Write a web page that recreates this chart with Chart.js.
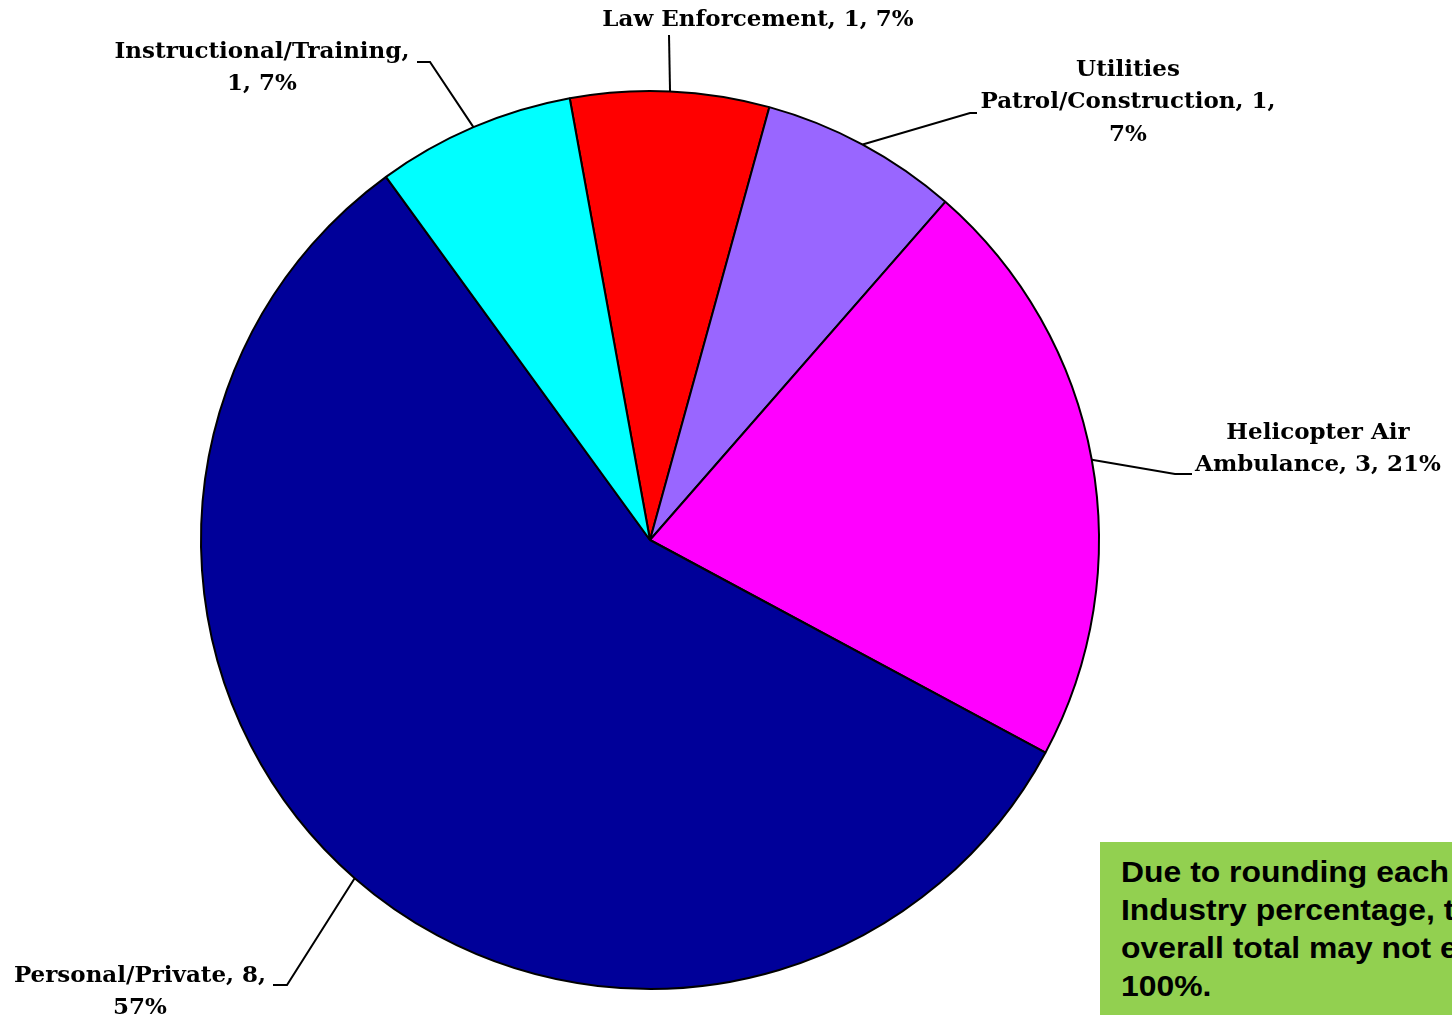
<!DOCTYPE html>
<html>
<head>
<meta charset="utf-8">
<script src="https://cdn.jsdelivr.net/npm/chart.js@4.4.0/dist/chart.umd.min.js"></script>
<style>
    html, body { margin: 0; padding: 0; background: #fff; overflow: hidden; }
    #wrap { position: relative; width: 1452px; height: 1022px; }
    #note {
        position: absolute; left: 1100px; top: 842px; width: 420px; height: 173px;
        box-sizing: border-box; padding: 11px 0 0 21px;
        background: #92d050; color: #000;
        font: bold 29px/38px "Liberation Sans", Arial, sans-serif;
        white-space: nowrap;
    }
    #note span { display: inline-block; transform: scaleX(1.1); transform-origin: left top; }
</style>
</head>
<body>
<div id="wrap">
    <canvas id="pieChart" width="1452" height="1022"></canvas>
    <div id="note"><span>Due to rounding each<br>Industry percentage, the<br>overall total may not equal<br>100%.</span></div>
</div>
<script>
// clockwise from just left of 12 o'clock
const categories = ['Law Enforcement', 'Utilities Patrol/Construction', 'Helicopter Air Ambulance', 'Personal/Private', 'Instructional/Training'];
const counts = [1, 1, 3, 8, 1];
const sliceColors = ['#ff0000', '#9966ff', '#ff00ff', '#000099', '#00ffff'];

// label placement: words per line, text centre, first line position, elbow of the leader line
const labelLayout = [
    { words: [4], x: 758, y: 20, elbow: [669, 35], end: [669, 35] },
    { words: [1, 2, 1], x: 1128, y: 70, elbow: [970, 113], end: [977, 113] },
    { words: [2, 3], x: 1318, y: 433, elbow: [1175, 474], end: [1192, 474] },
    { words: [2, 1], x: 140, y: 976, elbow: [287, 985], end: [273, 985] },
    { words: [1, 2], x: 262, y: 52, elbow: [430, 62], end: [417, 62] }
];

const total = counts.reduce((a, b) => a + b, 0);

const outsideLabels = {
    id: 'outsideLabels',
    afterDraw(chart) {
        const ctx = chart.ctx;
        const meta = chart.getDatasetMeta(0);
        ctx.save();
        ctx.font = 'bold 23px "DejaVu Serif", serif';
        ctx.fillStyle = '#000';
        ctx.strokeStyle = '#000';
        ctx.lineWidth = 2;
        ctx.textAlign = 'center';
        ctx.textBaseline = 'middle';
        meta.data.forEach((arc, i) => {
            const p = arc.getProps(['x', 'y', 'startAngle', 'endAngle', 'outerRadius'], true);
            const mid = (p.startAngle + p.endAngle) / 2;
            const ex = p.x + Math.cos(mid) * p.outerRadius;
            const ey = p.y + Math.sin(mid) * p.outerRadius;
            const lay = labelLayout[i];

            ctx.beginPath();
            ctx.moveTo(ex, ey);
            ctx.lineTo(lay.elbow[0], lay.elbow[1]);
            ctx.lineTo(lay.end[0], lay.end[1]);
            ctx.stroke();

            const pct = Math.round(counts[i] / total * 100);
            const tokens = categories[i].split(' ');
            tokens[tokens.length - 1] += ',';
            tokens.push(counts[i] + ',', pct + '%');
            let k = 0;
            lay.words.forEach((n, li) => {
                const line = tokens.slice(k, k + n).join(' ');
                k += n;
                ctx.fillText(line, lay.x, lay.y + li * 32.5);
            });
        });
        ctx.restore();
    }
};

new Chart(document.getElementById('pieChart'), {
    type: 'pie',
    data: {
        labels: categories,
        datasets: [{
            data: counts,
            backgroundColor: sliceColors,
            borderColor: '#000',
            borderWidth: 2
        }]
    },
    options: {
        responsive: false,
        animation: false,
        rotation: -10.3,
        layout: { padding: { left: 200, right: 352, top: 90, bottom: 32 } },
        plugins: {
            legend: { display: false },
            tooltip: { enabled: false }
        }
    },
    plugins: [outsideLabels]
});
</script>
</body>
</html>
